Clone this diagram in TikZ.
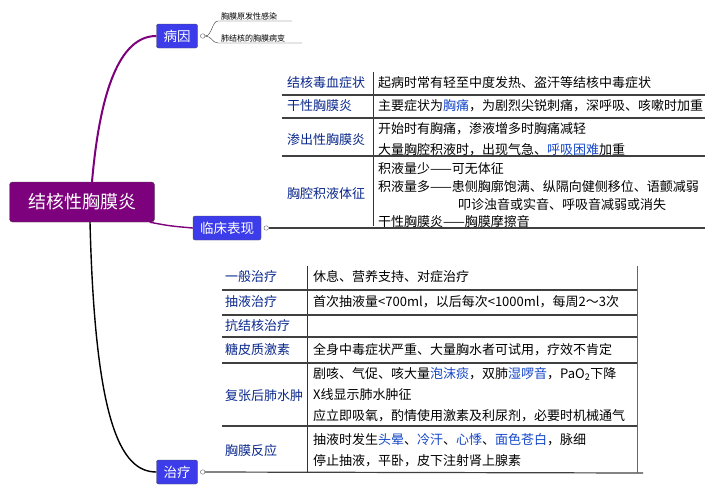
\documentclass[tikz,border=0pt]{standalone}
\usepackage{fontspec}
\setmainfont{Noto Sans CJK SC}
\usetikzlibrary{positioning}
\definecolor{mainpurple}{RGB}{125,0,125}
\definecolor{topicblue}{RGB}{60,60,235}
\definecolor{labblue}{RGB}{10,40,140}
\definecolor{hiblue}{RGB}{20,70,200}
\tikzset{
  mainbox/.style={draw=black!70,fill=mainpurple,rounded corners=3pt,text=white,minimum width=145pt,minimum height=40pt,font=\fontsize{18}{18}\selectfont},
  topicbox/.style={draw=black!70,fill=topicblue,rounded corners=2pt,text=white,minimum height=24pt,inner xsep=7pt,font=\fontsize{13.5}{13.5}\selectfont},
  lab/.style={anchor=west,text=labblue,font=\fontsize{13}{13}\selectfont,inner sep=0pt},
  txt/.style={anchor=west,font=\fontsize{13}{13}\selectfont,inner sep=0pt},
  leaf/.style={anchor=south west,font=\fontsize{8}{8}\selectfont,inner sep=1pt},
  branch/.style={mainpurple,line width=2pt},
  rule/.style={black!75,line width=1.2pt},
  knob/.style={draw=black!60,fill=white,circle,inner sep=1.6pt}
}
\newcommand{\hl}[1]{\textcolor{hiblue}{#1}}
\begin{document}
\begin{tikzpicture}[x=1pt,y=-1pt]
\useasboundingbox (0,0) rectangle (720,498);

\node[mainbox] (root) at (82,202) {结核性胸膜炎};
\node[topicbox] (cause) at (177,36) {病因};
\node[topicbox] (clin) at (227,228) {临床表现};
\node[topicbox] (treat) at (177,472) {治疗};

% main branches
\draw[branch] (root.north) ++(10,0) .. controls (100,90) and (120,36) .. (cause.west);
\draw[branch,line width=1.4pt] (root.south east) ++(-5,0) .. controls (170,226) .. (clin.west);
\draw[branch,line width=1.4pt,black] (root.south) ++(8,0) .. controls (95,420) and (120,472) .. (treat.west);

% cause leaves
\node[knob] (ck) at ([xshift=5pt]cause.east) {};
\node[leaf] (c1) at (220,21) {胸膜原发性感染};
\node[leaf] (c2) at (220,43) {肺结核的胸膜病变};
\coordinate (c2e) at (302,43);
\draw[black!80] (ck.east) .. controls (212,36) and (212,43) .. (218,43) -- (c2e);
\draw[black!80] (ck.east) .. controls (212,36) and (212,21) .. (218,21) -- (292,21);

% clinical table
\node[knob] (kk) at ([xshift=5pt]clin.east) {};
\coordinate (t1e) at (705,228);
\draw[rule] (kk.east) -- (t1e);
\draw[black!80,line width=0.8pt] (373,72) -- (373,226);
\foreach \y in {95,118,156} \draw[rule] (282,\y) -- (705,\y);
\node[lab] (l11) at (287,83) {结核毒血症状};
\node[txt] (r11) at (378,83) {起病时常有轻至中度发热、盗汗等结核中毒症状};
\node[lab] (l12) at (287,106) {干性胸膜炎};
\node[txt] (r12) at (378,106) {主要症状为\hl{胸痛}，为剧烈尖锐刺痛，深呼吸、咳嗽时加重};
\node[lab] (l13) at (287,140) {渗出性胸膜炎};
\node[txt] (r13) at (378,129) {开始时有胸痛，渗液增多时胸痛减轻};
\node[txt] (r13b) at (378,150) {大量胸腔积液时，出现气急、\hl{呼吸困难}加重};
\node[lab] (l14) at (287,194) {胸腔积液体征};
\node[txt] (r14) at (378,169) {积液量少——可无体征};
\node[txt] (r14b) at (378,187) {积液量多——患侧胸廓饱满、纵隔向健侧移位、语颤减弱};
\node[txt] (r14c) at (458,205) {叩诊浊音或实音、呼吸音减弱或消失};
\node[txt] (r14d) at (378,222) {干性胸膜炎——胸膜摩擦音};

% treatment table
\node[knob] (tk) at ([xshift=5pt]treat.east) {};
\coordinate (t2e) at (643,473);
\draw[rule] (tk.east) -- (t2e);
\draw[black!80,line width=0.8pt] (307,266) -- (307,473);
\draw[black!60,line width=0.8pt] (637,266) -- (637,473);
\foreach \y in {290,315,337,363,426} \draw[rule] (222,\y) -- (637,\y);
\node[lab] (l21) at (225,277) {一般治疗};
\node[txt] (r21) at (313,277) {休息、营养支持、对症治疗};
\node[lab] (l22) at (225,302) {抽液治疗};
\node[txt] (r22) at (313,302) {首次抽液量<700ml，以后每次<1000ml，每周2～3次};
\node[lab] (l23) at (225,326) {抗结核治疗};
\node[lab] (l24) at (225,350) {糖皮质激素};
\node[txt] (r24) at (313,350) {全身中毒症状严重、大量胸水者可试用，疗效不肯定};
\node[lab] (l25) at (225,396) {复张后肺水肿};
\node[txt] (r25) at (313,374) {剧咳、气促、咳大量\hl{泡沫痰}，双肺\hl{湿啰音}，PaO\textsubscript{2}下降};
\node[txt] (r25b) at (313,395) {X线显示肺水肿征};
\node[txt] (r25c) at (313,416) {应立即吸氧，酌情使用激素及利尿剂，必要时机械通气};
\node[lab] (l26) at (225,451) {胸膜反应};
\node[txt] (r26) at (313,440) {抽液时发生\hl{头晕}、\hl{冷汗}、\hl{心悸}、\hl{面色苍白}，脉细};
\node[txt] (r26b) at (313,461) {停止抽液，平卧，皮下注射肾上腺素};
\end{tikzpicture}
\end{document}
